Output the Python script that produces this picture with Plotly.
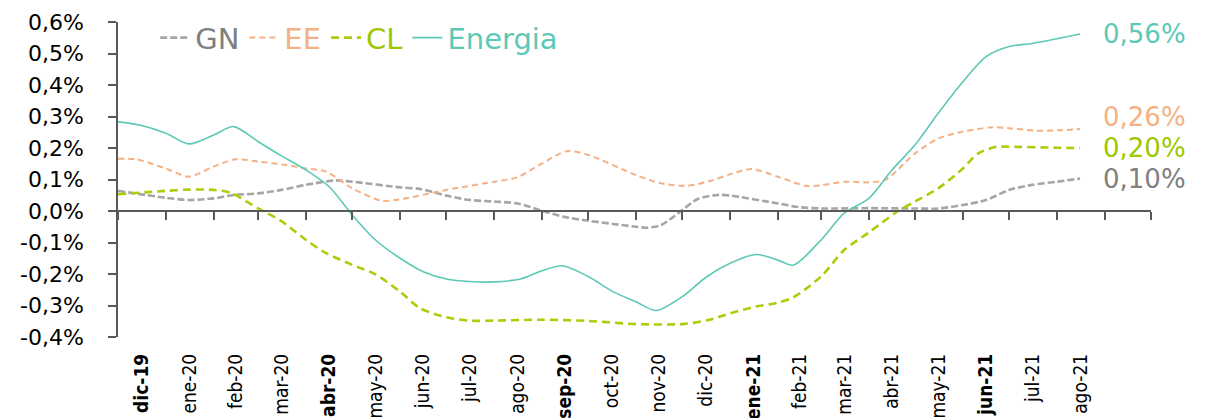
import pandas as pd
import plotly.graph_objects as go

# Month labels along the bottom axis (Spanish abbreviations); bold ones marked
month_labels = ["dic-19", "ene-20", "feb-20", "mar-20", "abr-20", "may-20", "jun-20",
                "jul-20", "ago-20", "sep-20", "oct-20", "nov-20", "dic-20", "ene-21",
                "feb-21", "mar-21", "abr-21", "may-21", "jun-21", "jul-21", "ago-21"]
bold_labels = ["dic-19", "abr-20", "sep-20", "ene-21", "jun-21"]

# Series: dates and values (percent)
gn_dates = ["2019-12-01", "2020-01-01", "2020-01-16", "2020-02-01", "2020-02-14", "2020-03-01",
            "2020-03-16", "2020-04-01", "2020-04-20", "2020-05-01", "2020-06-01", "2020-06-14",
            "2020-07-01", "2020-07-16", "2020-08-01", "2020-08-16", "2020-09-01", "2020-09-15",
            "2020-10-01", "2020-10-17", "2020-11-01", "2020-11-08", "2020-11-17", "2020-12-01",
            "2020-12-11", "2020-12-24", "2021-01-01", "2021-02-01", "2021-02-15", "2021-03-01",
            "2021-04-01", "2021-05-01", "2021-05-16", "2021-06-01", "2021-06-16", "2021-07-01",
            "2021-07-16", "2021-08-01", "2021-08-16"]
gn_values = [0.064, 0.042, 0.035, 0.040, 0.051, 0.056,
             0.067, 0.083, 0.097, 0.093, 0.075, 0.070,
             0.049, 0.035, 0.030, 0.024, 0.001, -0.018,
             -0.031, -0.041, -0.050, -0.053, -0.045, 0.003,
             0.038, 0.051, 0.049, 0.024, 0.012, 0.008,
             0.009, 0.008, 0.008, 0.019, 0.035, 0.067,
             0.083, 0.093, 0.103]

ee_dates = ["2019-12-01", "2019-12-13", "2020-01-01", "2020-01-16", "2020-02-01", "2020-02-15",
            "2020-03-01", "2020-03-19", "2020-04-01", "2020-04-14", "2020-05-01", "2020-05-20",
            "2020-06-01", "2020-07-01", "2020-08-01", "2020-08-16", "2020-09-01", "2020-09-17",
            "2020-10-01", "2020-11-01", "2020-11-17", "2020-12-04", "2020-12-21", "2021-01-01",
            "2021-01-15", "2021-02-01", "2021-02-19", "2021-03-01", "2021-03-16", "2021-04-01",
            "2021-04-12", "2021-05-01", "2021-05-16", "2021-06-01", "2021-06-20", "2021-07-01",
            "2021-07-18", "2021-08-01", "2021-08-16"]
ee_values = [0.166, 0.164, 0.135, 0.109, 0.141, 0.164,
             0.157, 0.146, 0.135, 0.125, 0.072, 0.033,
             0.037, 0.067, 0.093, 0.107, 0.151, 0.190,
             0.178, 0.114, 0.088, 0.080, 0.098, 0.117,
             0.133, 0.109, 0.080, 0.082, 0.093, 0.091,
             0.100, 0.183, 0.230, 0.252, 0.266, 0.263,
             0.255, 0.256, 0.260]

cl_dates = ["2019-12-01", "2020-01-01", "2020-01-16", "2020-02-01", "2020-02-12", "2020-03-01",
            "2020-03-15", "2020-04-01", "2020-04-14", "2020-05-01", "2020-05-16", "2020-06-01",
            "2020-06-14", "2020-07-01", "2020-07-16", "2020-08-01", "2020-09-01", "2020-10-01",
            "2020-11-01", "2020-12-01", "2020-12-18", "2021-01-01", "2021-01-17", "2021-02-01",
            "2021-02-11", "2021-03-01", "2021-03-16", "2021-04-01", "2021-04-20", "2021-05-01",
            "2021-05-16", "2021-06-01", "2021-06-11", "2021-06-23", "2021-07-01", "2021-08-01",
            "2021-08-16"]
cl_values = [0.053, 0.064, 0.068, 0.067, 0.058, 0.008,
             -0.029, -0.092, -0.134, -0.171, -0.201, -0.256,
             -0.309, -0.337, -0.348, -0.348, -0.345, -0.349,
             -0.359, -0.359, -0.346, -0.325, -0.304, -0.291,
             -0.274, -0.208, -0.124, -0.068, 0.000, 0.030,
             0.072, 0.135, 0.183, 0.204, 0.204, 0.201,
             0.200]

en_dates = ["2019-12-01", "2019-12-15", "2020-01-01", "2020-01-16", "2020-02-01", "2020-02-14",
            "2020-03-01", "2020-03-15", "2020-04-01", "2020-04-16", "2020-05-01", "2020-05-16",
            "2020-06-01", "2020-06-16", "2020-07-01", "2020-07-16", "2020-08-01", "2020-08-18",
            "2020-09-01", "2020-09-14", "2020-10-01", "2020-10-17", "2020-11-01", "2020-11-14",
            "2020-12-01", "2020-12-17", "2021-01-01", "2021-01-18", "2021-02-01", "2021-02-11",
            "2021-03-01", "2021-03-16", "2021-04-01", "2021-04-16", "2021-05-01", "2021-05-16",
            "2021-06-01", "2021-06-16", "2021-07-01", "2021-07-16", "2021-08-01", "2021-08-16"]
en_values = [0.283, 0.273, 0.247, 0.213, 0.241, 0.268,
             0.220, 0.178, 0.130, 0.077, -0.013, -0.092,
             -0.150, -0.193, -0.216, -0.224, -0.225, -0.216,
             -0.190, -0.174, -0.208, -0.256, -0.288, -0.316,
             -0.272, -0.208, -0.166, -0.138, -0.156, -0.172,
             -0.092, -0.007, 0.040, 0.130, 0.210, 0.310,
             0.410, 0.490, 0.522, 0.532, 0.547, 0.562]

y_ticks = [-0.4, -0.3, -0.2, -0.1, 0.0, 0.1, 0.2, 0.3, 0.4, 0.5, 0.6]

series = [
    # name, dates, values, line colour, text colour, dash, width
    ("GN", gn_dates, gn_values, "#A6A6A6", "#808080", "7px,3px", 2.6),
    ("EE", ee_dates, ee_values, "#F4B183", "#F4B183", "6px,4px", 2.0),
    ("CL", cl_dates, cl_values, "#A8CF0A", "#9CC800", "8px,5px", 2.6),
    ("Energia", en_dates, en_values, "#5CC9B7", "#5CC9B7", "solid", 1.6),
]

axis_color = "#595959"
x_start, x_end = "2019-12-01", "2021-10-01"

# Tick label positions: middle of each month slot
month_starts = pd.date_range("2019-12-01", "2021-09-01", freq="MS")
mid_months = [s + (s + pd.offsets.MonthBegin(1) - s) / 2 for s in month_starts[:len(month_labels)]]
tick_text = [f"<b>{m}</b>" if m in bold_labels else m for m in month_labels]

fig = go.Figure()
for name, dates, vals, lc, tc, dash, w in series:
    fig.add_trace(go.Scatter(
        x=pd.to_datetime(dates), y=vals, mode="lines",
        line=dict(color=lc, width=w, dash=dash, shape="spline", smoothing=0.8),
        name=f"<span style='color:{tc}'>{name}</span>",
        hoverinfo="skip",
    ))

# Empty trace so the zero-level axis (x2) is laid out
fig.add_trace(go.Scatter(x=[x_start, x_end], y=[None, None], xaxis="x2", yaxis="y",
                         mode="lines", showlegend=False, hoverinfo="skip"))

# Value labels at the end of each line
label_shift = {"EE": 12}
for name, dates, vals, lc, tc, dash, w in series:
    fig.add_annotation(
        x=pd.to_datetime(dates[-1]), y=vals[-1], xref="x", yref="y",
        text=f"{vals[-1]:.2f}%".replace(".", ","),
        showarrow=False, xanchor="left", yanchor="middle", xshift=21,
        yshift=label_shift.get(name, 0),
        font=dict(family="DejaVu Sans", size=26, color=tc),
    )

fig.update_layout(
    width=1206, height=418,
    margin=dict(l=118, r=55, t=22, b=81),
    paper_bgcolor="white", plot_bgcolor="white",
    showlegend=True,
    legend=dict(orientation="h", x=0.036, xanchor="left", y=0.95, yanchor="middle",
                font=dict(family="DejaVu Sans", size=29, color="#808080"),
                bgcolor="rgba(0,0,0,0)", itemwidth=30, tracegroupgap=0),
    xaxis=dict(type="date", range=[x_start, x_end], tickmode="array",
               tickvals=mid_months, ticktext=tick_text, tickangle=-90,
               ticks="", showline=False, showgrid=False, zeroline=False,
               automargin=False, ticklabelstandoff=12,
               tickfont=dict(family="Liberation Sans Narrow, DejaVu Sans Condensed, sans-serif",
                             size=19, color="#000000")),
    # Axis line with monthly boundary ticks drawn along the zero level
    xaxis2=dict(type="date", range=[x_start, x_end], overlaying="x", anchor="free",
                position=0.4, tick0=x_start, dtick="M1", ticks="outside", ticklen=8,
                tickwidth=1.6, tickcolor=axis_color, showline=True, linecolor=axis_color,
                linewidth=1.6, showticklabels=False, showgrid=False, zeroline=False),
    yaxis=dict(range=[-0.4, 0.6], tickmode="array", tickvals=y_ticks,
               ticktext=[f"{v:.1f}%".replace(".", ",") for v in y_ticks],
               ticks="outside", ticklen=8, tickwidth=1.6, tickcolor=axis_color,
               showline=True, linecolor=axis_color, linewidth=1.6,
               showgrid=False, zeroline=False, automargin=False, ticklabelstandoff=20,
               tickfont=dict(family="DejaVu Sans", size=22, color="#000000")),
)

fig.write_html("out.html")
